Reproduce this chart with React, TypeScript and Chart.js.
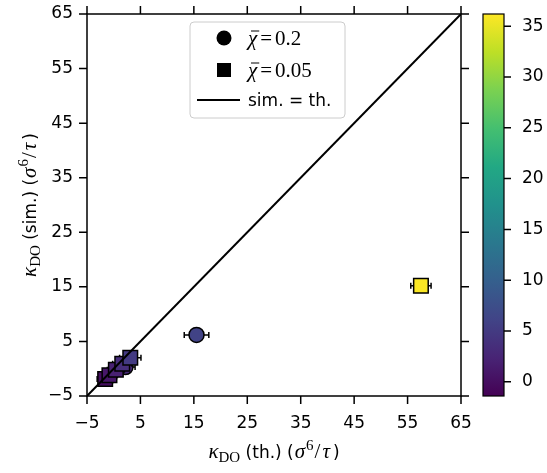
import React, { useEffect, useRef } from 'react';
import { Chart, registerables } from 'chart.js';
Chart.register(...registerables);

const W = 547;
const H = 473;

const AXIS_MIN = -5;
const AXIS_MAX = 65;
const AXIS_TICKS = [-5, 5, 15, 25, 35, 45, 55, 65];
const CBAR_TICKS = [0, 5, 10, 15, 20, 25, 30, 35];
const CBAR_MIN = -1.4;
const CBAR_MAX = 36.2;

// chi = 0.2 (circles)
const CIRC_TH = [-1.0, 2.2, 15.5];
const CIRC_SIM = [-1.5, 0.3, 6.2];
const CIRC_ERR = [1.5, 1.8, 2.3];
const CIRC_C = [0.5, 3, 6];

// chi = 0.05 (squares)
const SQ_TH = [-1.6, -0.8, 0.4, 1.6, 3.1, 57.5];
const SQ_SIM = [-1.9, -1.2, -0.2, 0.9, 2.0, 15.2];
const SQ_ERR = [1.5, 1.5, 1.6, 1.8, 2.0, 1.9];
const SQ_C = [0, 1, 2, 3.5, 5, 36];

const DIAG = [-5, 65];

const VIRIDIS = ['#440154', '#482475', '#414487', '#355f8d', '#2a788e', '#21918c', '#22a884', '#44bf70', '#7ad151', '#bddf26', '#fde725'];

function hex(h: string) {
  return [parseInt(h.slice(1, 3), 16), parseInt(h.slice(3, 5), 16), parseInt(h.slice(5, 7), 16)];
}
function viridis(v: number) {
  let t = (v - CBAR_MIN) / (CBAR_MAX - CBAR_MIN);
  t = Math.max(0, Math.min(1, t));
  const p = t * (VIRIDIS.length - 1);
  const i = Math.min(Math.floor(p), VIRIDIS.length - 2);
  const f = p - i;
  const a = hex(VIRIDIS[i]);
  const b = hex(VIRIDIS[i + 1]);
  const c = a.map((x, k) => Math.round(x + (b[k] - x) * f));
  return `rgb(${c[0]},${c[1]},${c[2]})`;
}

const fmt = (v: any) => {
  const n = Number(v);
  return n < 0 ? '\u2212' + Math.abs(n) : String(n);
};

const SANS = 'DejaVu Sans';
const SERIF = 'Liberation Serif';
const TICK_FONT = { family: SANS, size: 17 };

type Seg = { text: string; font: string; dy: number; w?: number; gap?: number };

function drawRich(ctx: CanvasRenderingContext2D, segs: Seg[], cx: number, cy: number, rotate: boolean) {
  ctx.save();
  ctx.translate(cx, cy);
  if (rotate) ctx.rotate(-Math.PI / 2);
  let total = 0;
  for (const s of segs) {
    ctx.font = s.font;
    s.w = ctx.measureText(s.text).width + (s.gap || 0);
    total += s.w;
  }
  let x = -total / 2;
  ctx.textBaseline = 'alphabetic';
  ctx.textAlign = 'left';
  ctx.fillStyle = '#000';
  for (const s of segs) {
    ctx.font = s.font;
    ctx.fillText(s.text, x, s.dy);
    x += s.w as number;
  }
  ctx.restore();
}

function titleSegs(mid: string): Seg[] {
  return [
    { text: '\u03ba', font: `italic 21px "${SERIF}"`, dy: 0 },
    { text: 'DO', font: `15px "${SERIF}"`, dy: 4 },
    { text: ` (${mid}) (`, font: `17px "${SANS}"`, dy: 0, gap: 1 },
    { text: '\u03c3', font: `italic 21px "${SERIF}"`, dy: 0, gap: 1 },
    { text: '6', font: `15px "${SERIF}"`, dy: -8, gap: 1 },
    { text: '/', font: `21px "${SERIF}"`, dy: 0, gap: 2 },
    { text: '\u03c4', font: `italic 21px "${SERIF}"`, dy: 0, gap: 3 },
    { text: ')', font: `17px "${SANS}"`, dy: 0 },
  ];
}

const TICK_LEN = 8;

const framePlugin = {
  id: 'frame',
  beforeDatasetDraw(chart: any, args: any) {
    const ds = chart.data.datasets[args.index];
    if (!ds.errX) return;
    const ctx = chart.ctx;
    const xs = chart.scales.x;
    const ys = chart.scales.y;
    ctx.save();
    ctx.strokeStyle = '#000';
    ctx.lineWidth = 1.5;
    ds.data.forEach((p: any, i: number) => {
      const e = ds.errX[i];
      const x0 = xs.getPixelForValue(p.x - e);
      const x1 = xs.getPixelForValue(p.x + e);
      const y = ys.getPixelForValue(p.y);
      const cap = ds.capHalf;
      ctx.beginPath();
      ctx.moveTo(x0, y);
      ctx.lineTo(x1, y);
      ctx.moveTo(x0, y - cap);
      ctx.lineTo(x0, y + cap);
      ctx.moveTo(x1, y - cap);
      ctx.lineTo(x1, y + cap);
      ctx.stroke();
    });
    ctx.restore();
  },
  afterDraw(chart: any) {
    const ctx = chart.ctx as CanvasRenderingContext2D;
    const a = chart.chartArea;
    const xs = chart.scales.x;
    const ys = chart.scales.y;
    const cb = chart.scales.cb;
    ctx.save();
    ctx.strokeStyle = '#000';
    ctx.lineWidth = 1.5;
    ctx.strokeRect(a.left, a.top, a.right - a.left, a.bottom - a.top);
    ctx.beginPath();
    for (const v of AXIS_TICKS) {
      const px = xs.getPixelForValue(v);
      ctx.moveTo(px, a.bottom);
      ctx.lineTo(px, a.bottom + TICK_LEN);
      ctx.moveTo(px, a.top);
      ctx.lineTo(px, a.top - TICK_LEN);
      const py = ys.getPixelForValue(v);
      ctx.moveTo(a.left, py);
      ctx.lineTo(a.left - TICK_LEN, py);
      ctx.moveTo(a.right, py);
      ctx.lineTo(a.right + TICK_LEN, py);
    }
    ctx.stroke();

    // colorbar
    const cbL = 483;
    const cbR = 504;
    const yTop = cb.getPixelForValue(CBAR_MAX);
    const yBot = cb.getPixelForValue(CBAR_MIN);
    const g = ctx.createLinearGradient(0, yBot, 0, yTop);
    VIRIDIS.forEach((c, i) => g.addColorStop(i / (VIRIDIS.length - 1), c));
    ctx.fillStyle = g;
    ctx.fillRect(cbL, yTop, cbR - cbL, yBot - yTop);
    ctx.lineWidth = 1.2;
    ctx.strokeRect(cbL, yTop, cbR - cbL, yBot - yTop);
    ctx.beginPath();
    for (const v of CBAR_TICKS) {
      const py = cb.getPixelForValue(v);
      ctx.moveTo(cbR, py);
      ctx.lineTo(cbR + 7, py);
    }
    ctx.lineWidth = 1.5;
    ctx.stroke();

    // legend
    const lx = 190, ly = 22, lw = 155, lh = 96;
    ctx.beginPath();
    ctx.roundRect(lx, ly, lw, lh, 4);
    ctx.fillStyle = 'rgba(255,255,255,0.85)';
    ctx.fill();
    ctx.strokeStyle = '#cccccc';
    ctx.lineWidth = 1;
    ctx.stroke();
    ctx.fillStyle = '#000';
    ctx.beginPath();
    ctx.arc(224, 38, 7.5, 0, Math.PI * 2);
    ctx.fill();
    ctx.fillRect(217, 63, 14, 14);
    ctx.strokeStyle = '#000';
    ctx.lineWidth = 2;
    ctx.beginPath();
    ctx.moveTo(197, 100);
    ctx.lineTo(240, 100);
    ctx.stroke();

    const chiRow = (val: string, y: number) => {
      ctx.font = `italic 21px "${SERIF}"`;
      ctx.textAlign = 'left';
      ctx.textBaseline = 'alphabetic';
      const chiW = ctx.measureText('\u03c7').width;
      ctx.fillText('\u03c7', 248, y);
      ctx.lineWidth = 1;
      ctx.beginPath();
      ctx.moveTo(251, y - 14);
      ctx.lineTo(250 + chiW, y - 14);
      ctx.stroke();
      ctx.font = `21px "${SERIF}"`;
      const eqX = 248 + chiW + 3;
      ctx.fillText('=', eqX, y);
      ctx.fillText(val, eqX + ctx.measureText('=').width + 3, y);
    };
    chiRow('0.2', 45);
    chiRow('0.05', 77);
    ctx.font = `17px "${SANS}"`;
    ctx.fillText('sim. = th.', 248, 106);

    // axis titles
    drawRich(ctx, titleSegs('th.'), (a.left + a.right) / 2, 458, false);
    drawRich(ctx, titleSegs('sim.'), 36, (a.top + a.bottom) / 2, true);
    ctx.restore();
  },
};

const zeroPad = (s: any) => {
  s.paddingTop = 0;
  s.paddingBottom = 0;
  s.paddingLeft = 0;
  s.paddingRight = 0;
};

const GRID_OFF = { display: false, drawTicks: false };

export default function App() {
  const ref = useRef<HTMLCanvasElement | null>(null);
  useEffect(() => {
    if (!ref.current) return;
    const axisTicks = (s: any) => {
      s.ticks = AXIS_TICKS.map((v) => ({ value: v }));
    };
    const chart = new Chart(ref.current, {
      type: 'scatter',
      data: {
        datasets: [
          {
            label: 'sim. = th.',
            data: DIAG.map((v) => ({ x: v, y: v })),
            showLine: true,
            borderColor: '#000',
            borderWidth: 2,
            pointRadius: 0,
          } as any,
          {
            label: 'chi=0.05',
            data: SQ_TH.map((x, i) => ({ x, y: SQ_SIM[i] })),
            pointStyle: 'rect',
            pointRadius: 10.3,
            pointBackgroundColor: SQ_C.map(viridis),
            pointBorderColor: '#000',
            pointBorderWidth: 1.5,
            errX: SQ_ERR,
            capHalf: 3,
          } as any,
          {
            label: 'chi=0.2',
            data: CIRC_TH.map((x, i) => ({ x, y: CIRC_SIM[i] })),
            pointStyle: 'circle',
            pointRadius: 7.5,
            pointBackgroundColor: CIRC_C.map(viridis),
            pointBorderColor: '#000',
            pointBorderWidth: 1.5,
            errX: CIRC_ERR,
            capHalf: 3,
          } as any,
        ],
      },
      options: {
        responsive: false,
        animation: false,
        devicePixelRatio: 1,
        layout: { padding: { top: 14, left: 0, right: 0, bottom: 0 } },
        plugins: { legend: { display: false }, tooltip: { enabled: false } },
        scales: {
          x: {
            type: 'linear',
            position: 'bottom',
            min: AXIS_MIN,
            max: AXIS_MAX,
            afterBuildTicks: axisTicks,
            afterFit: (s: any) => {
              s.height = 77;
              zeroPad(s);
            },
            ticks: { font: TICK_FONT, color: '#000', padding: 17, callback: fmt, maxRotation: 0, autoSkip: false },
            grid: GRID_OFF,
            border: { display: false },
          },
          y: {
            type: 'linear',
            position: 'left',
            min: AXIS_MIN,
            max: AXIS_MAX,
            afterBuildTicks: axisTicks,
            afterFit: (s: any) => {
              s.width = 87;
              zeroPad(s);
            },
            ticks: { font: TICK_FONT, color: '#000', padding: 14, callback: fmt, autoSkip: false },
            grid: GRID_OFF,
            border: { display: false },
          },
          cb: {
            type: 'linear',
            position: 'right',
            min: CBAR_MIN,
            max: CBAR_MAX,
            afterBuildTicks: (s: any) => {
              s.ticks = CBAR_TICKS.map((v) => ({ value: v }));
            },
            afterFit: (s: any) => {
              s.width = 86;
              zeroPad(s);
            },
            ticks: { font: TICK_FONT, color: '#000', padding: 61, callback: fmt, autoSkip: false },
            grid: GRID_OFF,
            border: { display: false },
          },
        },
      } as any,
      plugins: [framePlugin],
    });
    return () => chart.destroy();
  }, []);
  return (
    <div style={{ position: 'fixed', left: 0, top: 0, width: W, height: H, background: '#fff' }}>
      <canvas ref={ref} width={W} height={H} style={{ width: W, height: H, display: 'block' }} />
    </div>
  );
}
